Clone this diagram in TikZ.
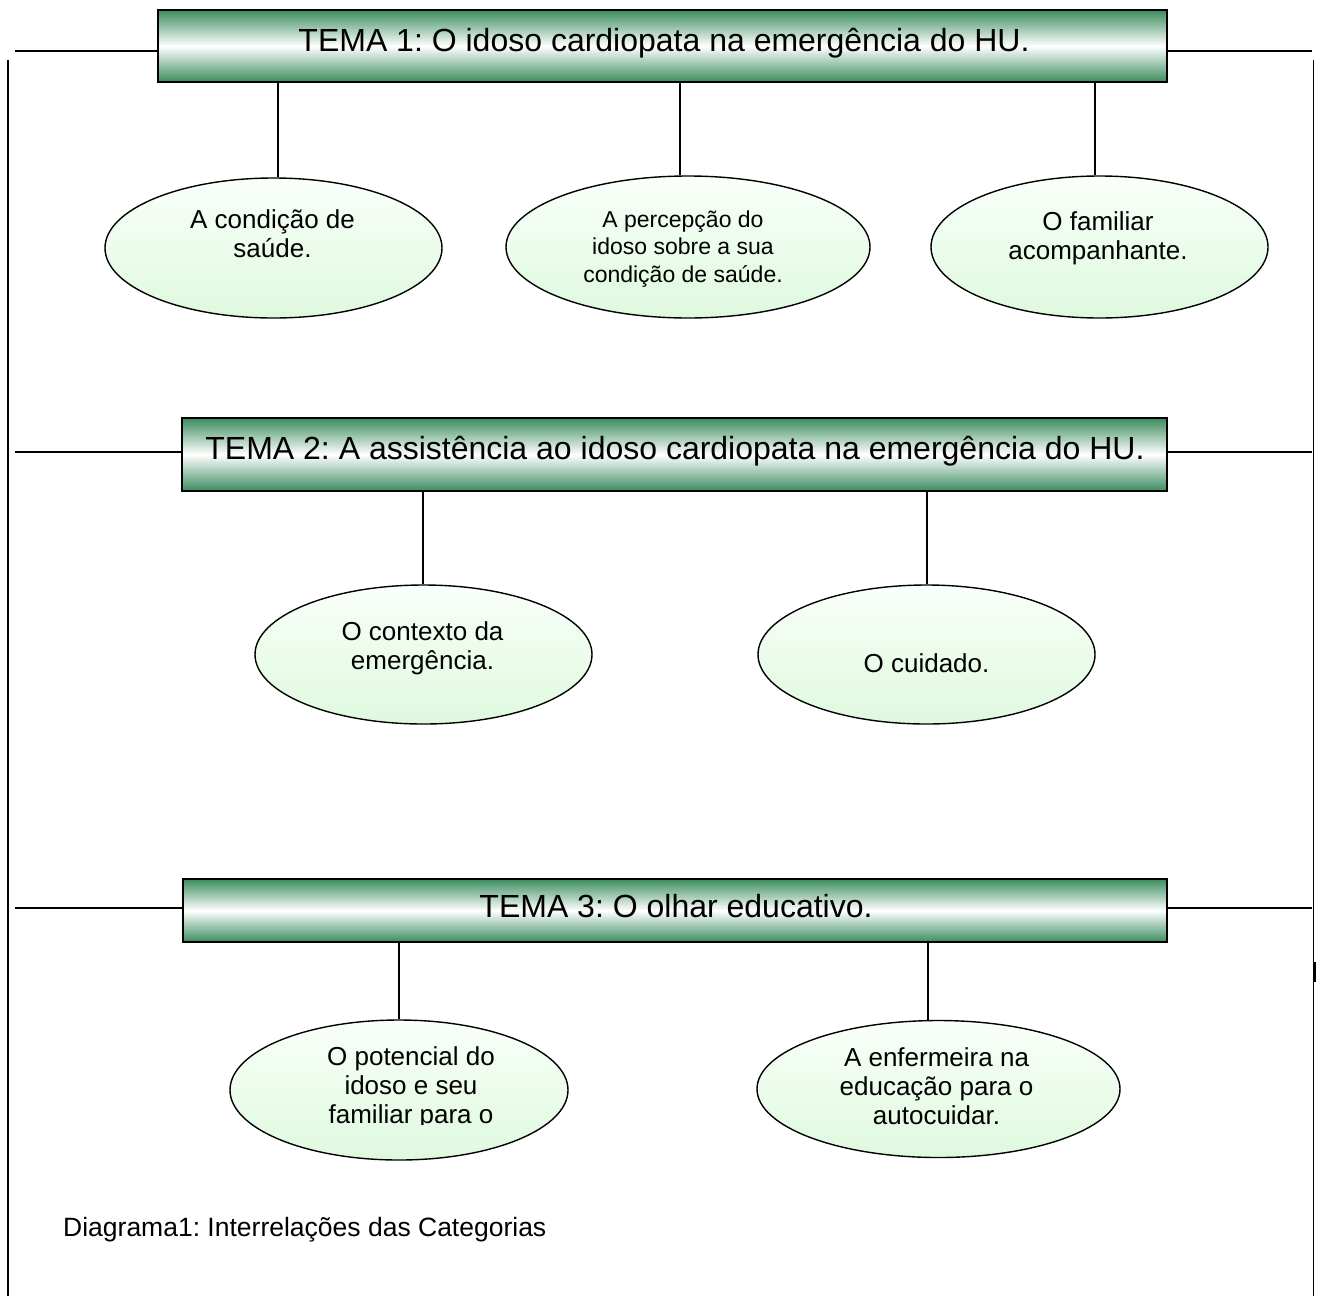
\documentclass[tikz,border=0pt]{standalone}
\usepackage{fontspec}
\setmainfont{Liberation Sans}
\usetikzlibrary{shapes.geometric}
\definecolor{boxgreen}{RGB}{58,140,94}
\definecolor{elltop}{RGB}{250,255,250}
\definecolor{ellbot}{RGB}{222,249,222}
\newcommand\catlines[1]{\begin{tabular}[t]{@{}c@{}}#1\end{tabular}}
\frenchspacing
\begin{document}
\frenchspacing
\begin{tikzpicture}[x=1pt,y=-1pt,
  tema/.style={rectangle, draw=black, line width=1.8pt, top color=boxgreen, bottom color=boxgreen, middle color=white, inner sep=0pt},
  cat/.style={ellipse, draw=black, line width=1.4pt, top color=elltop, bottom color=ellbot, inner sep=0pt},
  link/.style={line width=1.5pt, draw=black},
  tematxt/.style={inner sep=0pt, anchor=base, font=\fontsize{32}{38}\selectfont},
  cattxt/.style={inner sep=0pt, anchor=base, font=\fontsize{26}{29}\selectfont},
  smalltxt/.style={inner sep=0pt, anchor=base, font=\fontsize{23}{27.5}\selectfont},
]
\useasboundingbox (0,0) rectangle (1321,1296);

% theme boxes
\node[tema, minimum width=1009pt, minimum height=72pt] (b1) at (662.5,46) {};
\node[tema, minimum width=985pt, minimum height=73pt] (b2) at (674.5,454.5) {};
\node[tema, minimum width=984pt, minimum height=63pt] (b3) at (675,910.5) {};
\node[tematxt] (t1) at (664,51) {TEMA 1: O idoso cardiopata na emergência do HU.};
\node[tematxt] (t2) at (675,459) {TEMA 2: A assistência ao idoso cardiopata na emergência do HU.};
\node[tematxt] (t3) at (676,917) {TEMA 3: O olhar educativo.};

% category ellipses
\node[cat, minimum width=337pt, minimum height=140pt] (e1) at (273.5,248) {};
\node[cat, minimum width=364pt, minimum height=142pt] (e2) at (688,247) {};
\node[cat, minimum width=337pt, minimum height=142pt] (e3) at (1099.5,247) {};
\node[cat, minimum width=337pt, minimum height=139pt] (e4) at (423.5,654.5) {};
\node[cat, minimum width=337pt, minimum height=139pt] (e5) at (926.5,654.5) {};
\node[cat, minimum width=338pt, minimum height=140pt] (e6) at (399,1090) {};
\node[cat, minimum width=363pt, minimum height=137pt] (e7) at (938.5,1089) {};

\node[cattxt] (c1) at (272.5,228) {\catlines{A condição de\\saúde.}};
\node[smalltxt] (c2) at (683,227) {\catlines{A percepção do\\idoso sobre a sua\\condição de saúde.}};
\node[cattxt] (c3) at (1098,230) {\catlines{O familiar\\acompanhante.}};
\node[cattxt] (c4) at (422.5,640) {\catlines{O contexto da\\emergência.}};
\node[cattxt] (c5) at (926.5,672) {O cuidado.};
\begin{scope}
\clip (0,0) rectangle (1321,1124);
\node[cattxt] (c6) at (411,1065) {\catlines{O potencial do\\idoso e seu\\familiar para o}};
\end{scope}
\node[cattxt] (c7) at (936.5,1066) {\catlines{A enfermeira na\\educação para o\\autocuidar.}};

% connectors from themes to categories
\coordinate (x1) at (278,0);
\coordinate (x2) at (680,0);
\coordinate (x3) at (1095,0);
\coordinate (x4) at (423,0);
\coordinate (x5) at (927,0);
\coordinate (x6) at (399,0);
\coordinate (x7) at (928,0);
\draw[link] (b1.south -| x1) -- (e1.north -| x1);
\draw[link] (b1.south -| x2) -- (e2.north -| x2);
\draw[link] (b1.south -| x3) -- (e3.north -| x3);
\draw[link] (b2.south -| x4) -- (e4.north -| x4);
\draw[link] (b2.south -| x5) -- (e5.north -| x5);
\draw[link] (b3.south -| x6) -- (e6.north -| x6);
\draw[link] (b3.south -| x7) -- (e7.north -| x7);

% side lines
\coordinate (l1) at (15,51);
\coordinate (r1) at (1312,51);
\coordinate (l2) at (15,452);
\coordinate (r2) at (1312,452);
\coordinate (l3) at (15,908);
\coordinate (r3) at (1312,908);
\draw[link] (l1) -- (l1 -| b1.west);
\draw[link] (b1.east |- r1) -- (r1);
\draw[link] (l2) -- (l2 -| b2.west);
\draw[link] (b2.east |- r2) -- (r2);
\draw[link] (l3) -- (l3 -| b3.west);
\draw[link] (b3.east |- r3) -- (r3);

% frame verticals
\coordinate (vl0) at (8,60);
\coordinate (vl1) at (8,1296);
\coordinate (vr0) at (1313.5,60);
\coordinate (vr1) at (1313.5,1296);
\draw[link] (vl0) -- (vl1);
\draw[link] (vr0) -- (vr1);
\coordinate (m0) at (1314,962);
\coordinate (m1) at (1314,982);
\draw[line width=3pt] (m0) -- (m1);

% caption
\node[inner sep=0pt, anchor=base west, font=\fontsize{26.5}{31}\selectfont] (cap) at (63,1236) {Diagrama1: Interrelações das Categorias};
\end{tikzpicture}
\end{document}
